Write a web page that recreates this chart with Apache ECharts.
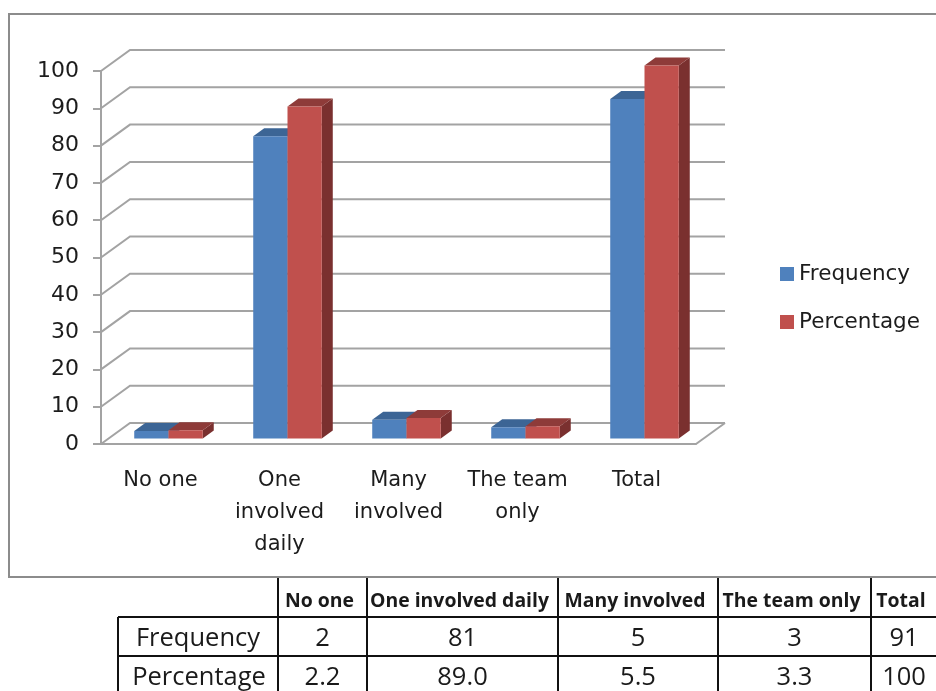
<!DOCTYPE html>
<html><head><meta charset="utf-8">
<style>html,body{margin:0;padding:0;background:#fff}#c{width:936px;height:691px}</style>
<script src="https://cdn.jsdelivr.net/npm/echarts@6/dist/echarts.min.js"></script>
</head><body><div id="c"></div>
<script>
// ---- data ----
const categories = ['No one', 'One involved daily', 'Many involved', 'The team only', 'Total'];
const axisLabels = ['No one', 'One\ninvolved\ndaily', 'Many\ninvolved', 'The team\nonly', 'Total'];
const frequency = [2, 81, 5, 3, 91];
const percentage = [2.2, 89.0, 5.5, 3.3, 100];
const percentageText = ['2.2', '89.0', '5.5', '3.3', '100'];
const gridValues = [0, 10, 20, 30, 40, 50, 60, 70, 80, 90, 100];

// ---- style ----
const FONT = 'DejaVu Sans';
const TXT = '#1c1c1c';
const GREY = '#a3a3a3';
const WALL = [29, -21], BAR_SHIFT = [8, -5.5], BAR_DEPTH = [11, -8], BAR_RATIO = 0.288;
const SHADES = [
  {front: '#4F81BD', top: '#3C6595', side: '#385D8A'},
  {front: '#C0504D', top: '#8E3B39', side: '#7A302F'}
];

function barRenderer(si) {
  return function (params, api) {
    const c = api.value(0), v = api.value(1);
    const w = api.size([1, 0])[0] * BAR_RATIO;
    const t = api.coord([c, v]), b = api.coord([c, 0]);
    const x0 = t[0] + BAR_SHIFT[0] + (si - 1) * w, x1 = x0 + w;
    const yT = t[1] + BAR_SHIFT[1], yB = b[1] + BAR_SHIFT[1];
    const dx = BAR_DEPTH[0], dy = BAR_DEPTH[1], s = SHADES[si];
    return {type: 'group', children: [
      {type: 'polygon', shape: {points: [[x1, yB], [x1 + dx, yB + dy], [x1 + dx, yT + dy], [x1, yT]]}, style: {fill: s.side}},
      {type: 'polygon', shape: {points: [[x0, yT], [x0 + dx, yT + dy], [x1 + dx, yT + dy], [x1, yT]]}, style: {fill: s.top}},
      {type: 'rect', shape: {x: x0, y: yT, width: w, height: yB - yT}, style: {fill: s.front}}
    ]};
  };
}
function wallRenderer(params, api) {
  const cs = params.coordSys, y = api.coord([0, api.value(1)])[1];
  const x = cs.x, xb = x + WALL[0], yb = y + WALL[1], line = {stroke: GREY, lineWidth: 2, fill: 'none'};
  const kids = [{type: 'polyline', shape: {points: [[x, y], [xb, yb], [x + cs.width + WALL[0], yb]]}, style: line}];
  if (api.value(1) === 0) kids.push({type: 'line', shape: {x1: x + cs.width, y1: y, x2: x + cs.width + WALL[0], y2: yb}, style: line});
  return {type: 'group', children: kids};
}

// ---- table drawn as graphic elements ----
const colX = [118, 278, 367, 558, 718, 871, 937];
const rowY = [578, 617, 656, 695];
const g = [];
g.push({type: 'rect', shape: {x: 9, y: 14, width: 940, height: 563}, style: {fill: 'none', stroke: '#8c8c8c', lineWidth: 2}, silent: true});
const ln = (x1, y1, x2, y2) => g.push({type: 'line', shape: {x1, y1, x2, y2}, style: {stroke: '#111', lineWidth: 2}, silent: true});
ln(colX[0], rowY[1], 936, rowY[1]); ln(colX[0], rowY[2], 936, rowY[2]);
ln(colX[0], rowY[1], colX[0], rowY[3]);
for (let i = 1; i < 6; i++) ln(colX[i], rowY[0], colX[i], rowY[3]);
const txt = (s, x, y, bold) => g.push({type: 'text', x, y, silent: true, style: {
  text: s, textAlign: 'center', textVerticalAlign: 'middle', fill: '#1a1a1a',
  font: (bold ? 'bold 19.4px "Open Sans"' : '25.5px "Open Sans"')}});
categories.forEach((c, i) => {
  const cx = (colX[i + 1] + colX[i + 2]) / 2;
  txt(c, cx - 3, 601, true);
  txt(String(frequency[i]), cx, 639, false);
  txt(percentageText[i], cx, 678, false);
});
txt('Frequency', 198, 639, false);
txt('Percentage', 199, 678, false);

const chart = echarts.init(document.getElementById('c'));
chart.setOption({
  animation: false,
  backgroundColor: '#fff',
  grid: {left: 101, right: 240, top: 71, bottom: 247, containLabel: false},
  xAxis: {type: 'category', data: categories, boundaryGap: true,
    axisLine: {lineStyle: {color: GREY, width: 2}},
    axisTick: {length: 8, lineStyle: {color: GREY, width: 2}},
    axisLabel: {interval: 0, margin: 21, color: TXT, fontFamily: FONT, fontSize: 21, lineHeight: 32,
      formatter: (v, i) => axisLabels[i]},
    splitLine: {show: false}},
  yAxis: {type: 'value', min: 0, max: 100, interval: 10,
    axisLine: {show: true, lineStyle: {color: GREY, width: 2}},
    axisTick: {show: true, length: 8, lineStyle: {color: GREY, width: 2}},
    axisLabel: {margin: 22, color: TXT, fontFamily: FONT, fontSize: 22},
    splitLine: {show: false}},
  legend: {data: ['Frequency', 'Percentage'], orient: 'vertical', left: 775, top: 258, itemWidth: 14, itemHeight: 14,
    itemGap: 26, icon: 'rect', textStyle: {color: TXT, fontFamily: FONT, fontSize: 21.5}},
  series: [
    {type: 'custom', name: 'walls', z: 1, silent: true, clip: false, renderItem: wallRenderer,
      data: gridValues.map(v => [0, v])},
    {type: 'custom', name: 'Frequency', z: 2, clip: false, renderItem: barRenderer(0),
      itemStyle: {color: SHADES[0].front}, data: frequency.map((v, i) => [i, v])},
    {type: 'custom', name: 'Percentage', z: 3, clip: false, renderItem: barRenderer(1),
      itemStyle: {color: SHADES[1].front}, data: percentage.map((v, i) => [i, v])}
  ],
  graphic: {elements: g}
});
</script></body></html>
